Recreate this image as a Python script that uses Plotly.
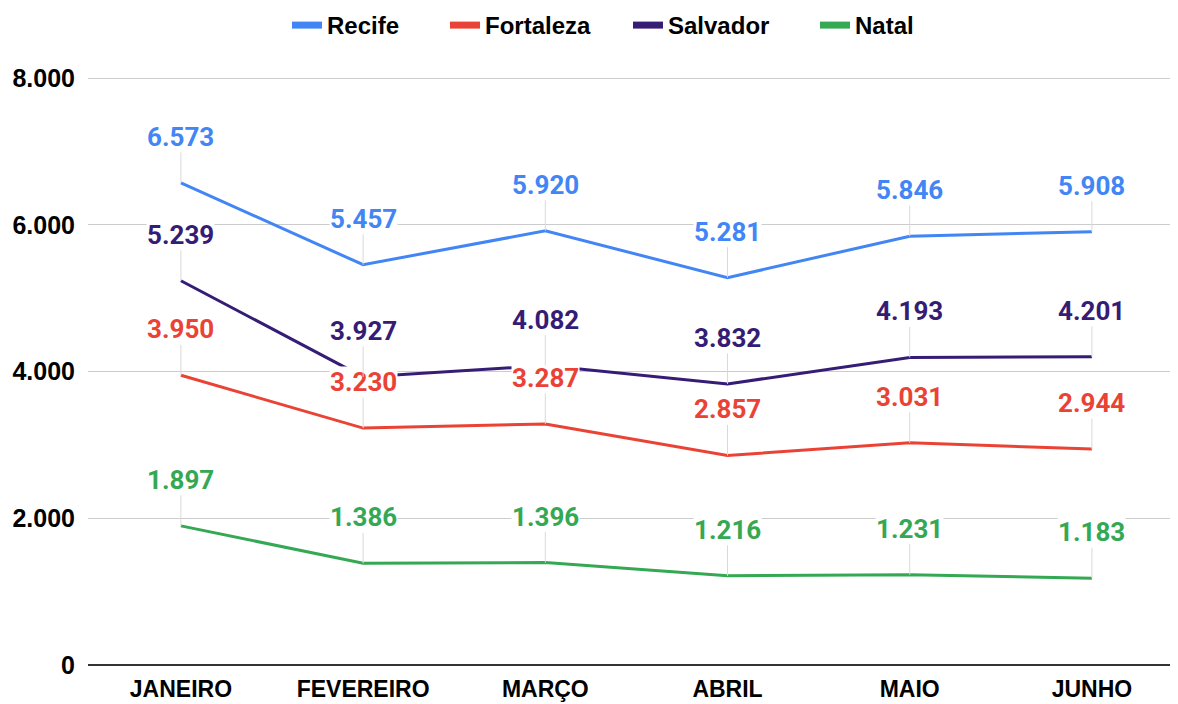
import plotly.graph_objects as go

months = ["JANEIRO", "FEVEREIRO", "MARÇO", "ABRIL", "MAIO", "JUNHO"]
recife = [6573, 5457, 5920, 5281, 5846, 5908]
fortaleza = [3950, 3230, 3287, 2857, 3031, 2944]
salvador = [5239, 3927, 4082, 3832, 4193, 4201]
natal = [1897, 1386, 1396, 1216, 1231, 1183]
y_ticks = [0, 2000, 4000, 6000, 8000]

series = [
    ("Recife", recife, "#4285F4"),
    ("Fortaleza", fortaleza, "#EA4335"),
    ("Salvador", salvador, "#351C75"),
    ("Natal", natal, "#34A853"),
]
legend_ids = ["legend", "legend2", "legend3", "legend4"]
legend_text_x = [327, 485, 668, 855]  # left edge of each legend label (px)

def fmt(v):
    return f"{v:,}".replace(",", ".")

W, H, OFF = 1178, 696, 8  # page body offset compensation
Y_MAX = 8030
PX_PER_UNIT = (665 - 78) / 8000
top_px = 78 - (Y_MAX - 8000) * PX_PER_UNIT
X_STEP = 182.2  # px between categories
x_left = -0.51
x_right = x_left + (OFF + W - 88) / X_STEP

fig = go.Figure()
for name, vals, color in series:
    fig.add_trace(go.Scatter(x=months, y=vals, mode="lines", name=name,
                             line=dict(color=color, width=3),
                             showlegend=False, hoverinfo="skip"))
for (name, vals, color), lid in zip(series, legend_ids):
    fig.add_trace(go.Scatter(x=[None], y=[None], mode="lines", name=name,
                             line=dict(color=color, width=7), showlegend=True,
                             legend=lid))

annotations = []
for name, vals, color in series:
    for m, v in zip(months, vals):
        annotations.append(dict(
            x=m, y=v, xref="x", yref="y", text=fmt(v),
            showarrow=True, arrowhead=0, arrowwidth=1, arrowcolor="#d9d9d9",
            ax=0, ay=-46, standoff=0, bgcolor="white", borderpad=0,
            font=dict(family="Roboto", size=26, color=color, weight="bold"),
        ))

legend_font = dict(family="Liberation Sans", size=24, color="#000000", weight="bold")
legends = {}
for lid, tx in zip(legend_ids, legend_text_x):
    legends[lid] = dict(orientation="h", xref="container", yref="container",
                        x=(tx - OFF - 40) / W, xanchor="left",
                        y=1 - (25.5 - OFF) / H, yanchor="middle",
                        font=legend_font, itemwidth=30, bgcolor="rgba(0,0,0,0)")

fig.update_layout(
    width=W, height=H,
    margin=dict(l=88 - OFF, r=0, t=top_px - OFF, b=39),
    paper_bgcolor="white", plot_bgcolor="white",
    separators=",.",
    annotations=annotations,
    showlegend=True,
    **legends,
    xaxis=dict(range=[x_left, x_right], showgrid=False, zeroline=False, showline=False,
               ticks="", ticklabelstandoff=8,
               tickfont=dict(family="Liberation Sans", size=23, color="#000000", weight="bold")),
    yaxis=dict(range=[0, Y_MAX], tickvals=y_ticks, tickformat=",d",
               showgrid=True, gridcolor="#cccccc", gridwidth=1,
               zeroline=True, zerolinecolor="#333333", zerolinewidth=2,
               ticks="", ticklabelstandoff=12,
               tickfont=dict(family="Liberation Sans", size=25, color="#000000", weight="bold")),
)

fig.write_html("out.html")
